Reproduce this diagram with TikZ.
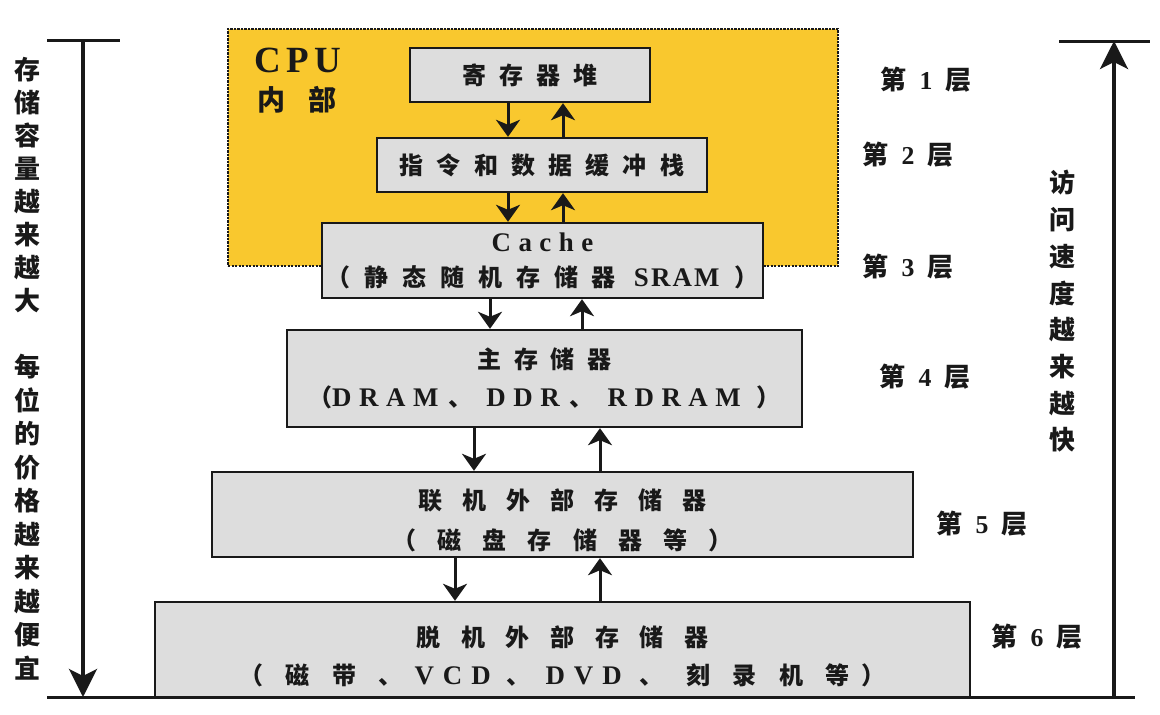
\documentclass[tikz,border=0pt]{standalone}
\usepackage{fontspec}
\setmainfont{Liberation Serif}[Scale=1.12]
\newfontfamily\cjk{Noto Sans CJK SC}
\usetikzlibrary{arrows.meta}
\definecolor{cpuyellow}{RGB}{249,200,46}
\definecolor{boxgray}{RGB}{221,221,221}
\definecolor{ink}{RGB}{25,25,25}
\newcommand\zh[2]{{\cjk\addfontfeature{LetterSpace=#1}#2}}
\newcommand\en[2]{{\addfontfeature{LetterSpace=#1}#2}}
\newcommand\shiftdown[2]{\raisebox{-#1}[\height][\depth]{#2}}
\tikzset{
  membox/.style={draw=ink, line width=2.4pt, fill=boxgray, inner sep=0pt, align=center,
    text=ink, font=\bfseries\fontsize{24}{37}\selectfont},
  cpuzone/.style={fill=cpuyellow, draw=ink, line width=2.4pt, dash pattern=on 2.2pt off 1.3pt, inner sep=0pt},
  flow/.style={draw=ink, line width=3pt, -{Stealth[length=17pt,width=24pt,inset=5pt]}},
  bigflow/.style={draw=ink, line width=3.5pt, -{Stealth[length=28pt,width=28pt,inset=7pt]}},
  rule/.style={draw=ink, line width=3pt},
  layer/.style={text=ink, font=\bfseries\fontsize{26}{30}\selectfont, inner sep=0pt},
  sidetext/.style={text=ink, align=center, inner sep=0pt},
}
\newcommand\layertext[1]{\zh{0}{第}\hspace{13pt}\fontsize{23}{28}\selectfont#1\hspace{13pt}\fontsize{26}{30}\selectfont\zh{0}{层}}
\begin{document}
\begin{tikzpicture}[x=1pt,y=-1pt]
\useasboundingbox[fill=white] (0,0) rectangle (1160,715);

% CPU zone
\node[cpuzone, minimum width=610pt, minimum height=237pt] (cpu) at (533,147.5) {};
\node[text=ink, font=\bfseries\fontsize{33}{40}\selectfont, inner sep=0pt] (cpuA) at (298,60) {\en{15}{CPU}};
\node[text=ink, font=\bfseries\fontsize{28}{30}\selectfont, inner sep=0pt] (cpuB) at (297,100) {\zh{85}{内部}};

% memory boxes
\node[membox, minimum width=240pt, minimum height=54pt] (b1) at (530,75) {\zh{55}{寄存器堆}};
\node[membox, minimum width=330pt, minimum height=54pt] (b2) at (542,165) {\zh{55}{指令和数据缓冲栈}};
\node[membox, minimum width=441pt, minimum height=75pt, font=\bfseries\fontsize{24}{35}\selectfont] (b3) at (542.5,260.5)
  {\en{28}{Cache}\\\zh{58}{（静态随机存储器}\hspace{18pt}\en{8}{SRAM}\hspace{15pt}\zh{0}{）}};
\node[membox, minimum width=515pt, minimum height=97pt, font=\bfseries\fontsize{24}{38}\selectfont] (b4) at (544.5,378.5)
  {\zh{52}{主存储器}\\\zh{0}{（}\en{28}{DRAM}\hspace{10pt}\zh{0}{、}\hspace{14pt}\en{28}{DDR}\hspace{10pt}\zh{0}{、}\hspace{14pt}\en{28}{RDRAM}\hspace{16pt}\zh{0}{）}};
\node[membox, minimum width=701pt, minimum height=85pt, font=\bfseries\fontsize{24}{40}\selectfont] (b5) at (562.5,514.5)
  {\shiftdown{6pt}{\zh{84}{联机外部存储器}}\\\shiftdown{6pt}{\zh{88}{（磁盘存储器等）}}};
\node[membox, minimum width=815pt, minimum height=95pt, font=\bfseries\fontsize{24}{38}\selectfont] (b6) at (562.5,649.5)
  {\shiftdown{7pt}{\zh{86}{脱机外部存储器}}\\\shiftdown{7pt}{\zh{94}{（磁带、}\hspace{12pt}\en{33}{VCD}\hspace{16pt}\zh{0}{、}\hspace{15pt}\en{33}{DVD}\hspace{18pt}\zh{94}{、刻录机等}\hspace{12pt}\zh{0}{）}}};

% arrow columns
\coordinate (xa) at (508,0);
\coordinate (xb) at (563,0);
\coordinate (xc) at (490,0);
\coordinate (xd) at (582,0);
\coordinate (xe) at (474,0);
\coordinate (xf) at (600,0);
\coordinate (xg) at (455,0);

\draw[flow] (b1.south -| xa) -- (b2.north -| xa);
\draw[flow] (b2.north -| xb) -- (b1.south -| xb);
\draw[flow] (b2.south -| xa) -- (b3.north -| xa);
\draw[flow] (b3.north -| xb) -- (b2.south -| xb);
\draw[flow] (b3.south -| xc) -- (b4.north -| xc);
\draw[flow] (b4.north -| xd) -- (b3.south -| xd);
\draw[flow] (b4.south -| xe) -- (b5.north -| xe);
\draw[flow] (b5.north -| xf) -- (b4.south -| xf);
\draw[flow] (b5.south -| xg) -- (b6.north -| xg);
\draw[flow] (b6.north -| xf) -- (b5.south -| xf);

% layer labels
\node[layer] (l1) at (926,80) {\layertext{1}};
\node[layer] (l2) at (908,155) {\layertext{2}};
\node[layer] (l3) at (908,267) {\layertext{3}};
\node[layer] (l4) at (925,377) {\layertext{4}};
\node[layer] (l5) at (982,524) {\layertext{5}};
\node[layer] (l6) at (1037,637) {\layertext{6}};

% left axis
\coordinate (ltl) at (47,40);
\coordinate (ltr) at (120,40);
\coordinate (ltop) at (83,40);
\coordinate (lbot) at (83,697);
\coordinate (bl) at (47,697);
\coordinate (br) at (1135,697);
\draw[rule] (ltl) -- (ltr);
\draw[rule] (bl) -- (br);
\draw[bigflow] (ltop) -- (lbot);

% right axis
\coordinate (rtl) at (1059,41);
\coordinate (rtr) at (1150,41);
\coordinate (rtop) at (1114,41);
\coordinate (rbot) at (1114,697);
\draw[rule] (rtl) -- (rtr);
\draw[bigflow] (rbot) -- (rtop);

% side texts
\node[sidetext, font=\cjk\bfseries\fontsize{26}{32.9}\selectfont] (lefta) at (27,185)
  {存\\储\\容\\量\\越\\来\\越\\大};
\node[sidetext, font=\cjk\bfseries\fontsize{26}{33.5}\selectfont] (leftb) at (27,517)
  {每\\位\\的\\价\\格\\越\\来\\越\\便\\宜};
\node[sidetext, font=\cjk\bfseries\fontsize{26}{36.7}\selectfont] (right) at (1062,311.5)
  {访\\问\\速\\度\\越\\来\\越\\快};
\end{tikzpicture}
\end{document}
